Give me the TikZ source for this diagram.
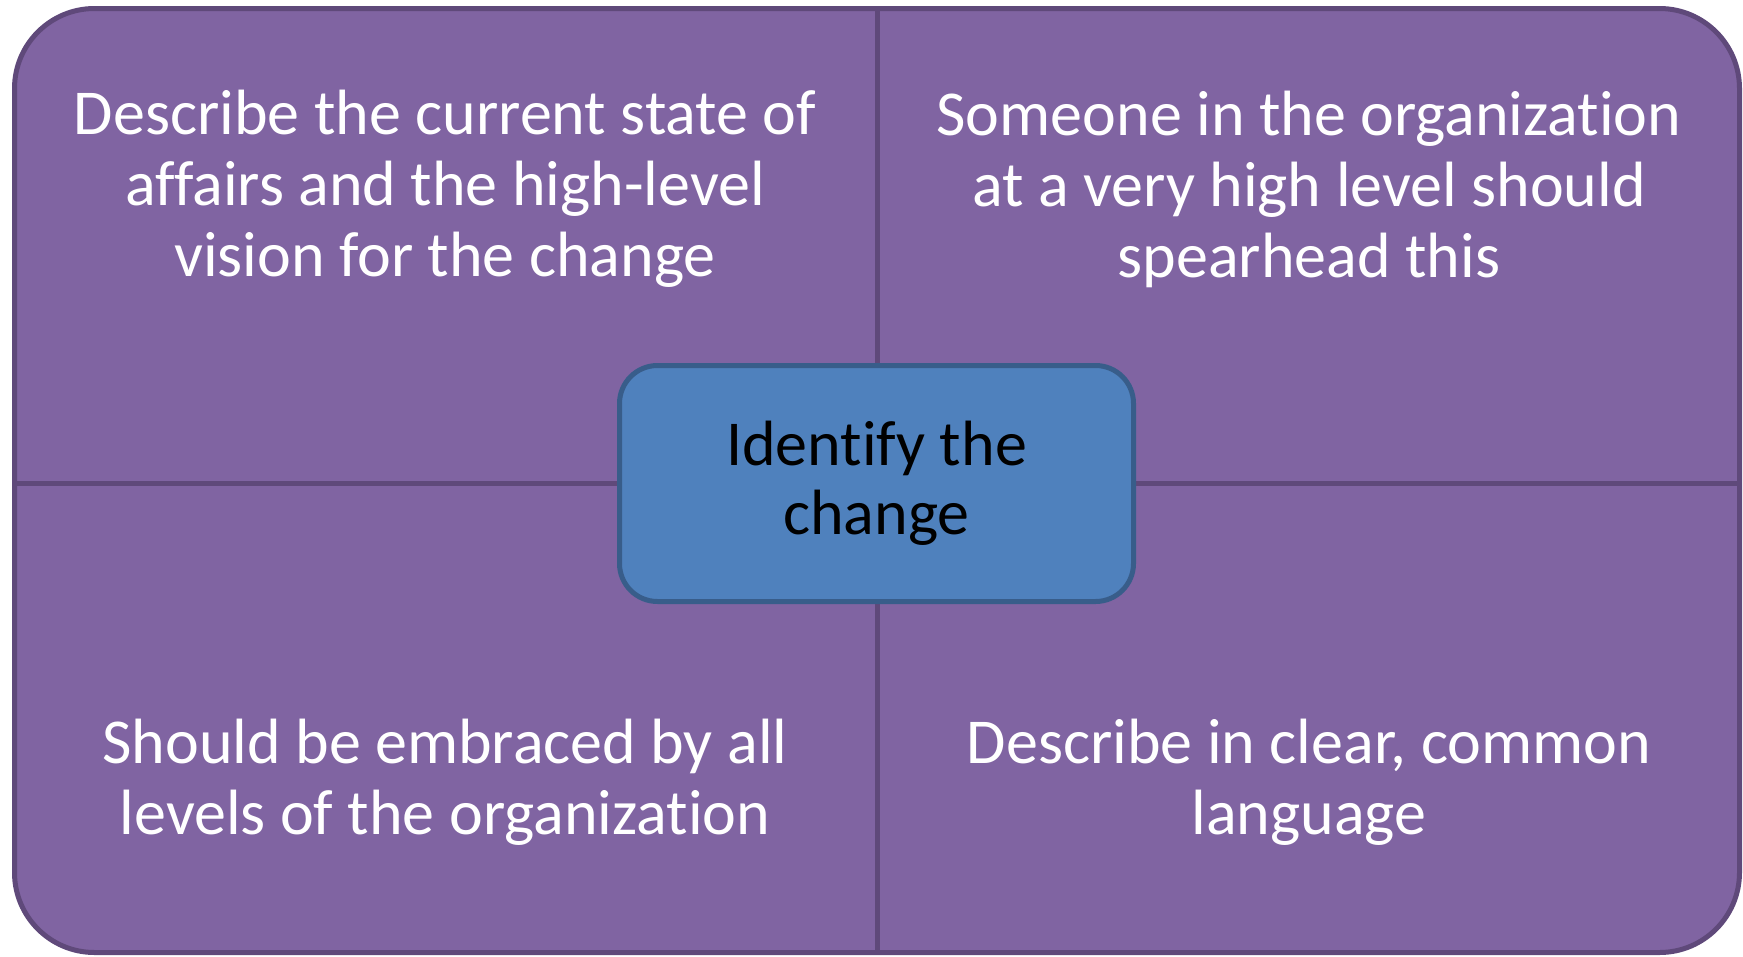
\documentclass[tikz,border=0pt]{standalone}
\usepackage{fontspec}
\setmainfont{Carlito}[Ligatures=NoCommon]
\definecolor{quadfill}{HTML}{8064A2}
\definecolor{quadline}{HTML}{5F497A}
\definecolor{hubfill}{HTML}{4F81BD}
\definecolor{hubline}{HTML}{385D8A}
\tikzset{
  frame/.style={draw=quadline, fill=quadfill, line width=5pt, rounded corners=80pt},
  divider/.style={draw=quadline, line width=5pt},
  quadtext/.style={text=white, align=center, font=\fontsize{64}{71}\selectfont, inner sep=0pt},
  hub/.style={draw=hubline, fill=hubfill, line width=5pt, rounded corners=38pt,
    minimum width=514pt, minimum height=236pt, inner sep=0pt, align=center,
    font=\fontsize{64}{69}\selectfont, text=black}
}
\begin{document}
\begin{tikzpicture}[x=1pt,y=-1pt]
  \useasboundingbox (0,0) rectangle (1743,956);
  % outer panel
  \draw[frame] (14.5,8.5) rectangle (1739.5,952.5);
  % quadrant dividers
  \coordinate (top) at (877,8.5);
  \coordinate (bottom) at (877,952.5);
  \coordinate (left) at (14.5,483);
  \coordinate (right) at (1739.5,483);
  \draw[divider] (top) -- (bottom);
  \draw[divider] (left) -- (right);
  % quadrant texts
  \node[quadtext] (tl) at (445,189) {Describe the current state of\\affairs and the high-level\\vision for the change};
  \node[quadtext] (tr) at (1309,189) {Someone in the organization\\at a very high level should\\spearhead this};
  \node[quadtext] (bl) at (445,782) {Should be embraced by all\\levels of the organization};
  \node[quadtext] (br) at (1309,782) {Describe in clear, common\\language};
  % central hub
  \node[hub] (hubnode) at (876.5,483.5) {Identify the\\change};
\end{tikzpicture}
\end{document}
